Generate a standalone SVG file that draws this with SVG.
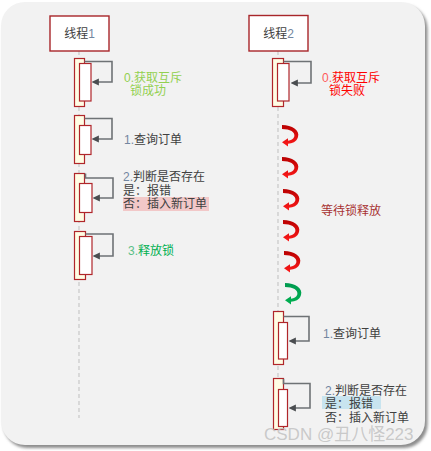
<svg xmlns="http://www.w3.org/2000/svg" width="431" height="451" viewBox="0 0 431 451">
<defs>
<style>
.txt{font-family:"Liberation Sans","Noto Sans CJK SC",sans-serif;font-size:12px;fill:#404040}
.num{fill:#7286a0}
.life{stroke:#bfbfbf;stroke-width:1;stroke-dasharray:4 3;fill:none}
.head{fill:#fff;stroke:#a8262a;stroke-width:1.4}
.act{fill:#fffde4;stroke:#b0262a;stroke-width:1.2}
.inn{fill:#fff;stroke:#b0262a;stroke-width:1.2}
.self{fill:none;stroke:#6e7275;stroke-width:1.6;marker-end:url(#ah)}
</style>
<marker id="ah" viewBox="0 0 8 8" refX="1" refY="4" markerWidth="4.5" markerHeight="4.5" orient="auto-start-reverse" markerUnits="strokeWidth">
<path d="M8,0 L0,4 L8,8 Z" fill="#4a4d50" transform="rotate(180 4 4)"/>
</marker>
<linearGradient id="gr" x1="0" y1="0" x2="0" y2="1">
<stop offset="0" stop-color="#b80000"/>
<stop offset="1" stop-color="#ff1a1a"/>
</linearGradient>
<linearGradient id="gg" x1="0" y1="0" x2="0" y2="1">
<stop offset="0" stop-color="#009a50"/>
<stop offset="1" stop-color="#00b050"/>
</linearGradient>
<path id="curl" d="M0,0 C10,0 18,5 16,12 C14.5,17 10,18.5 6,18.8 L6,21.5 L0,17.2 L6,13.2 L6,15.8 C9,15.5 11.5,14 12.3,11.5 C13.5,7 8,4 0,4 Z"/>
<filter id="sh" x="-5%" y="-5%" width="110%" height="110%">
<feGaussianBlur stdDeviation="1.5"/>
</filter>
</defs>
<rect width="431" height="451" fill="#ffffff"/>
<g id="background">
<rect x="3.5" y="5" width="424" height="443" rx="24" fill="#8c8c8c" filter="url(#sh)"/>
<rect x="1" y="2" width="424" height="443" rx="24" fill="#f2f2f2"/>
</g>
<g id="lifelines">
<line class="life" x1="79" y1="51" x2="79" y2="418"/>
<line class="life" x1="278" y1="51" x2="278" y2="380"/>
</g>
<g id="thread1">
<rect class="head" x="50" y="16" width="59" height="35"/>
<text class="txt" x="79.5" y="38" text-anchor="middle">线程<tspan class="num">1</tspan></text>
</g>
<g id="thread2">
<rect class="head" x="249" y="15.5" width="59" height="35.5"/>
<text class="txt" x="278.5" y="38" text-anchor="middle">线程<tspan class="num">2</tspan></text>
</g>
<g id="t1-act0">
<rect class="act" x="74.5" y="58.5" width="10" height="48"/>
<rect class="inn" x="79.5" y="63.5" width="11.5" height="37.5"/>
</g>
<g id="t1-act1">
<rect class="act" x="74.5" y="115.5" width="10" height="48"/>
<rect class="inn" x="79.5" y="125.5" width="11.5" height="29"/>
</g>
<g id="t1-act2">
<rect class="act" x="74.5" y="173.5" width="10" height="48"/>
<rect class="inn" x="79.5" y="183.5" width="12.5" height="29"/>
</g>
<g id="t1-act3">
<rect class="act" x="74.5" y="231.5" width="11" height="48"/>
<rect class="inn" x="79.5" y="236.5" width="12.5" height="38"/>
</g>
<g id="t2-act0">
<rect class="act" x="272.5" y="58.5" width="11" height="48"/>
<rect class="inn" x="277.5" y="63.5" width="11.5" height="37.5"/>
</g>
<g id="t2-act1">
<rect class="act" x="273.5" y="311.5" width="10" height="53"/>
<rect class="inn" x="278.5" y="322.5" width="9" height="36.5"/>
</g>
<g id="t2-act2">
<rect class="act" x="273.5" y="378.5" width="10" height="51"/>
<rect class="inn" x="278.5" y="389.5" width="9" height="37"/>
</g>
<g id="connectors">
<path class="self" d="M84.5,61.5 H112 V82 H98"/>
<path class="self" d="M84.5,118.5 H112 V139 H98"/>
<path class="self" d="M85.5,173.5 V178 H113 V198 H99"/>
<path class="self" d="M85.5,234 H113 V256 H99"/>
<path class="self" d="M283.5,61.5 H311 V83 H297"/>
<path class="self" d="M283.5,316.5 H309 V341 H295"/>
<path class="self" d="M283.5,379 V383.5 H310 V408 H295"/>
</g>
<g id="wait-arrows">
<use href="#curl" x="282" y="125" fill="url(#gr)"/>
<use href="#curl" x="282" y="157" fill="url(#gr)"/>
<use href="#curl" x="283" y="189" fill="url(#gr)"/>
<use href="#curl" x="283" y="220" fill="url(#gr)"/>
<use href="#curl" x="284" y="251" fill="url(#gr)"/>
<use href="#curl" x="285" y="283" fill="url(#gg)"/>
</g>
<g id="labels">
<text class="txt" x="124" y="82" style="fill:#92d050">0.获取互斥</text>
<text class="txt" x="130" y="95" style="fill:#92d050">锁成功</text>
<text class="txt" x="124" y="144"><tspan class="num">1.</tspan>查询订单</text>
<text class="txt" x="123" y="181"><tspan class="num">2.</tspan>判断是否存在</text>
<text class="txt" x="123" y="194.5">是：报错</text>
<rect x="123" y="197" width="86" height="14" fill="#f2c8c8"/>
<text class="txt" x="123" y="208">否：插入新订单</text>
<text class="txt" x="128" y="255" style="fill:#00b050"><tspan style="fill:#5cc088">3.</tspan>释放锁</text>
<text class="txt" x="322" y="82" style="fill:#ff0000"><tspan style="fill:#ff5a5a">0.</tspan>获取互斥</text>
<text class="txt" x="329" y="95" style="fill:#ff0000">锁失败</text>
<text class="txt" x="321" y="215" style="fill:#a83232">等待锁释放</text>
<text class="txt" x="323" y="338"><tspan class="num">1.</tspan>查询订单</text>
<text class="txt" x="325" y="395"><tspan class="num">2.</tspan>判断是否存在</text>
<rect x="322" y="396" width="59" height="13" fill="#c8e4ef"/>
<text class="txt" x="325" y="408">是：报错</text>
<text class="txt" x="325" y="422">否：插入新订单</text>
</g>
<g id="watermark">
<text x="264" y="440" style="font-family:'Liberation Sans','Noto Sans CJK SC',sans-serif;font-size:17px;fill:#c4c4c4;fill-opacity:0.9">CSDN @丑八怪223</text>
</g>
</svg>
